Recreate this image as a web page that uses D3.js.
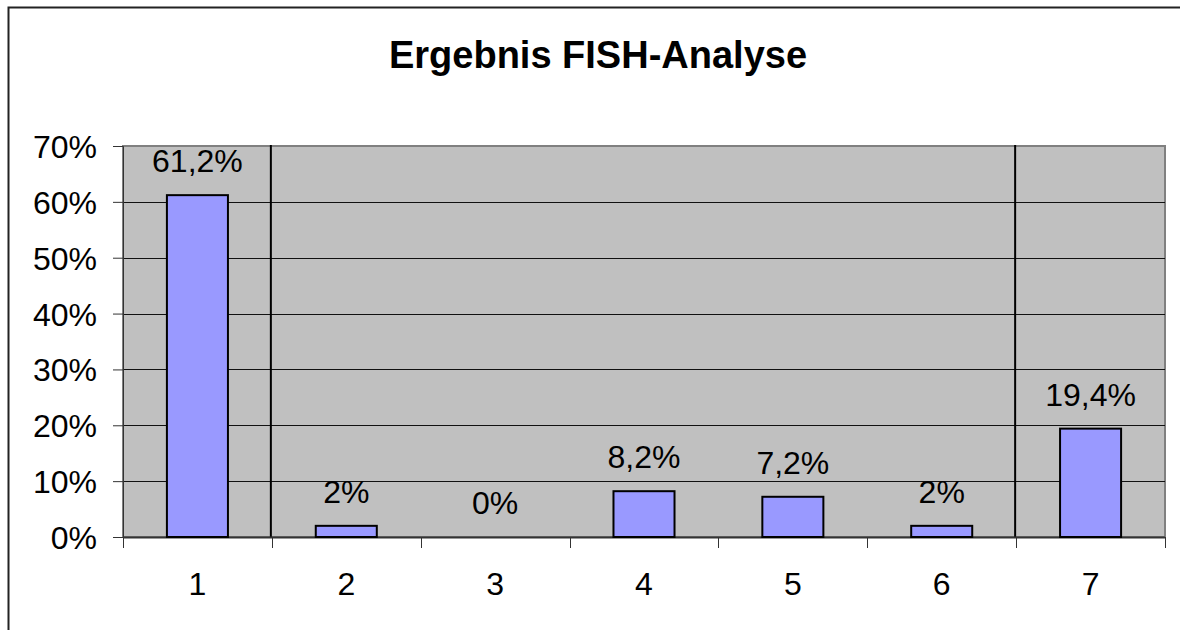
<!DOCTYPE html>
<html>
<head>
<meta charset="utf-8">
<script src="https://cdn.jsdelivr.net/npm/d3@7"></script>
<style>
  html, body { margin: 0; padding: 0; background: #fff; overflow: hidden; }
  svg { display: block; }
  text { font-family: Arial, "Liberation Sans", sans-serif; fill: #000; }
</style>
</head>
<body>
<div id="chart"></div>
<script>
const categories = ["1", "2", "3", "4", "5", "6", "7"];
const values = [61.2, 2, 0, 8.2, 7.2, 2, 19.4];
const valueLabels = ["61,2%", "2%", "0%", "8,2%", "7,2%", "2%", "19,4%"];
const yTicks = [0, 10, 20, 30, 40, 50, 60, 70];
const separators = [1, 6]; // vertical lines after category index

let width = 1180,
    height = 630;

const plot = { left: 123, right: 1165, top: 146, bottom: 537 };

const svg = d3.select("#chart").append("svg")
    .attr("width", width)
    .attr("height", height);

// outer chart border: only the top and left edges are inside the picture
svg.append("path")
    .attr("d", "M8.5," + height + "V7.5H" + width)
    .attr("fill", "none")
    .attr("stroke", "#222")
    .attr("stroke-width", 2);

svg.append("text")
    .attr("x", 598)
    .attr("y", 68)
    .attr("text-anchor", "middle")
    .style("font-size", "38px")
    .style("font-weight", "bold")
    .text("Ergebnis FISH-Analyse");

let x = d3.scaleBand()
    .domain(categories)
    .range([plot.left, plot.right]);

let y = d3.scaleLinear()
    .domain([0, 70])
    .range([plot.bottom, plot.top]);

// plot area
svg.append("rect")
    .attr("x", plot.left).attr("y", plot.top)
    .attr("width", plot.right - plot.left)
    .attr("height", plot.bottom - plot.top)
    .attr("fill", "#c0c0c0")
    .attr("stroke", "#808080")
    .attr("stroke-width", 2);

// gridlines
svg.selectAll(".grid")
    .data(yTicks.slice(1, -1))
    .enter().append("line")
    .attr("class", "grid")
    .attr("x1", plot.left).attr("x2", plot.right)
    .attr("y1", d => Math.round(y(d)) + 0.5)
    .attr("y2", d => Math.round(y(d)) + 0.5)
    .attr("stroke", "#111")
    .attr("stroke-width", 1);

// separator lines
svg.selectAll(".sep")
    .data(separators)
    .enter().append("line")
    .attr("class", "sep")
    .attr("x1", d => x(categories[d]) - 1)
    .attr("x2", d => x(categories[d]) - 1)
    .attr("y1", plot.top - 1).attr("y2", plot.bottom)
    .attr("stroke", "#000")
    .attr("stroke-width", 2);

// y axis
const yAxis = svg.append("g")
    .attr("transform", "translate(" + plot.left + ",0)")
    .call(d3.axisLeft(y).tickValues(yTicks).tickSize(10).tickPadding(16)
      .tickFormat(d => d + "%"));
yAxis.select(".domain").attr("stroke", "#333").attr("stroke-width", 1);
yAxis.selectAll(".tick line").attr("stroke", "#333");
yAxis.selectAll("text")
    .style("font-size", "32px")
    .attr("font-family", null)
    .attr("dy", "0.36em");

// x axis: ticks at category boundaries
const xAxis = svg.append("g")
    .attr("transform", "translate(0," + plot.bottom + ")");
xAxis.append("line")
    .attr("x1", plot.left).attr("x2", plot.right)
    .attr("y1", 0.5).attr("y2", 0.5)
    .attr("stroke", "#333").attr("stroke-width", 2);
const bounds = categories.map(c => x(c)).concat([plot.right]);
xAxis.selectAll(".xtick")
    .data(bounds)
    .enter().append("line")
    .attr("class", "xtick")
    .attr("x1", d => Math.round(d) + 0.5).attr("x2", d => Math.round(d) + 0.5)
    .attr("y1", 0).attr("y2", 11)
    .attr("stroke", "#333");
xAxis.selectAll(".xlabel")
    .data(categories)
    .enter().append("text")
    .attr("class", "xlabel")
    .attr("x", d => x(d) + x.bandwidth() / 2)
    .attr("y", 58)
    .attr("text-anchor", "middle")
    .style("font-size", "32px")
    .text(d => d);

// bars
const barW = x.bandwidth() * 0.41;
const bars = svg.selectAll(".bar")
    .data(values.map((v, i) => ({ cat: categories[i], v: v, label: valueLabels[i] })))
    .enter();

bars.filter(d => d.v > 0).append("rect")
    .attr("class", "bar")
    .attr("x", d => x(d.cat) + (x.bandwidth() - barW) / 2)
    .attr("y", d => y(d.v))
    .attr("width", barW)
    .attr("height", d => y(0) - y(d.v))
    .attr("fill", "#9999ff")
    .attr("stroke", "#000")
    .attr("stroke-width", 2);

bars.append("text")
    .attr("x", d => x(d.cat) + x.bandwidth() / 2)
    .attr("y", d => y(d.v) - 23)
    .attr("text-anchor", "middle")
    .style("font-size", "32px")
    .text(d => d.label);
</script>
</body>
</html>
